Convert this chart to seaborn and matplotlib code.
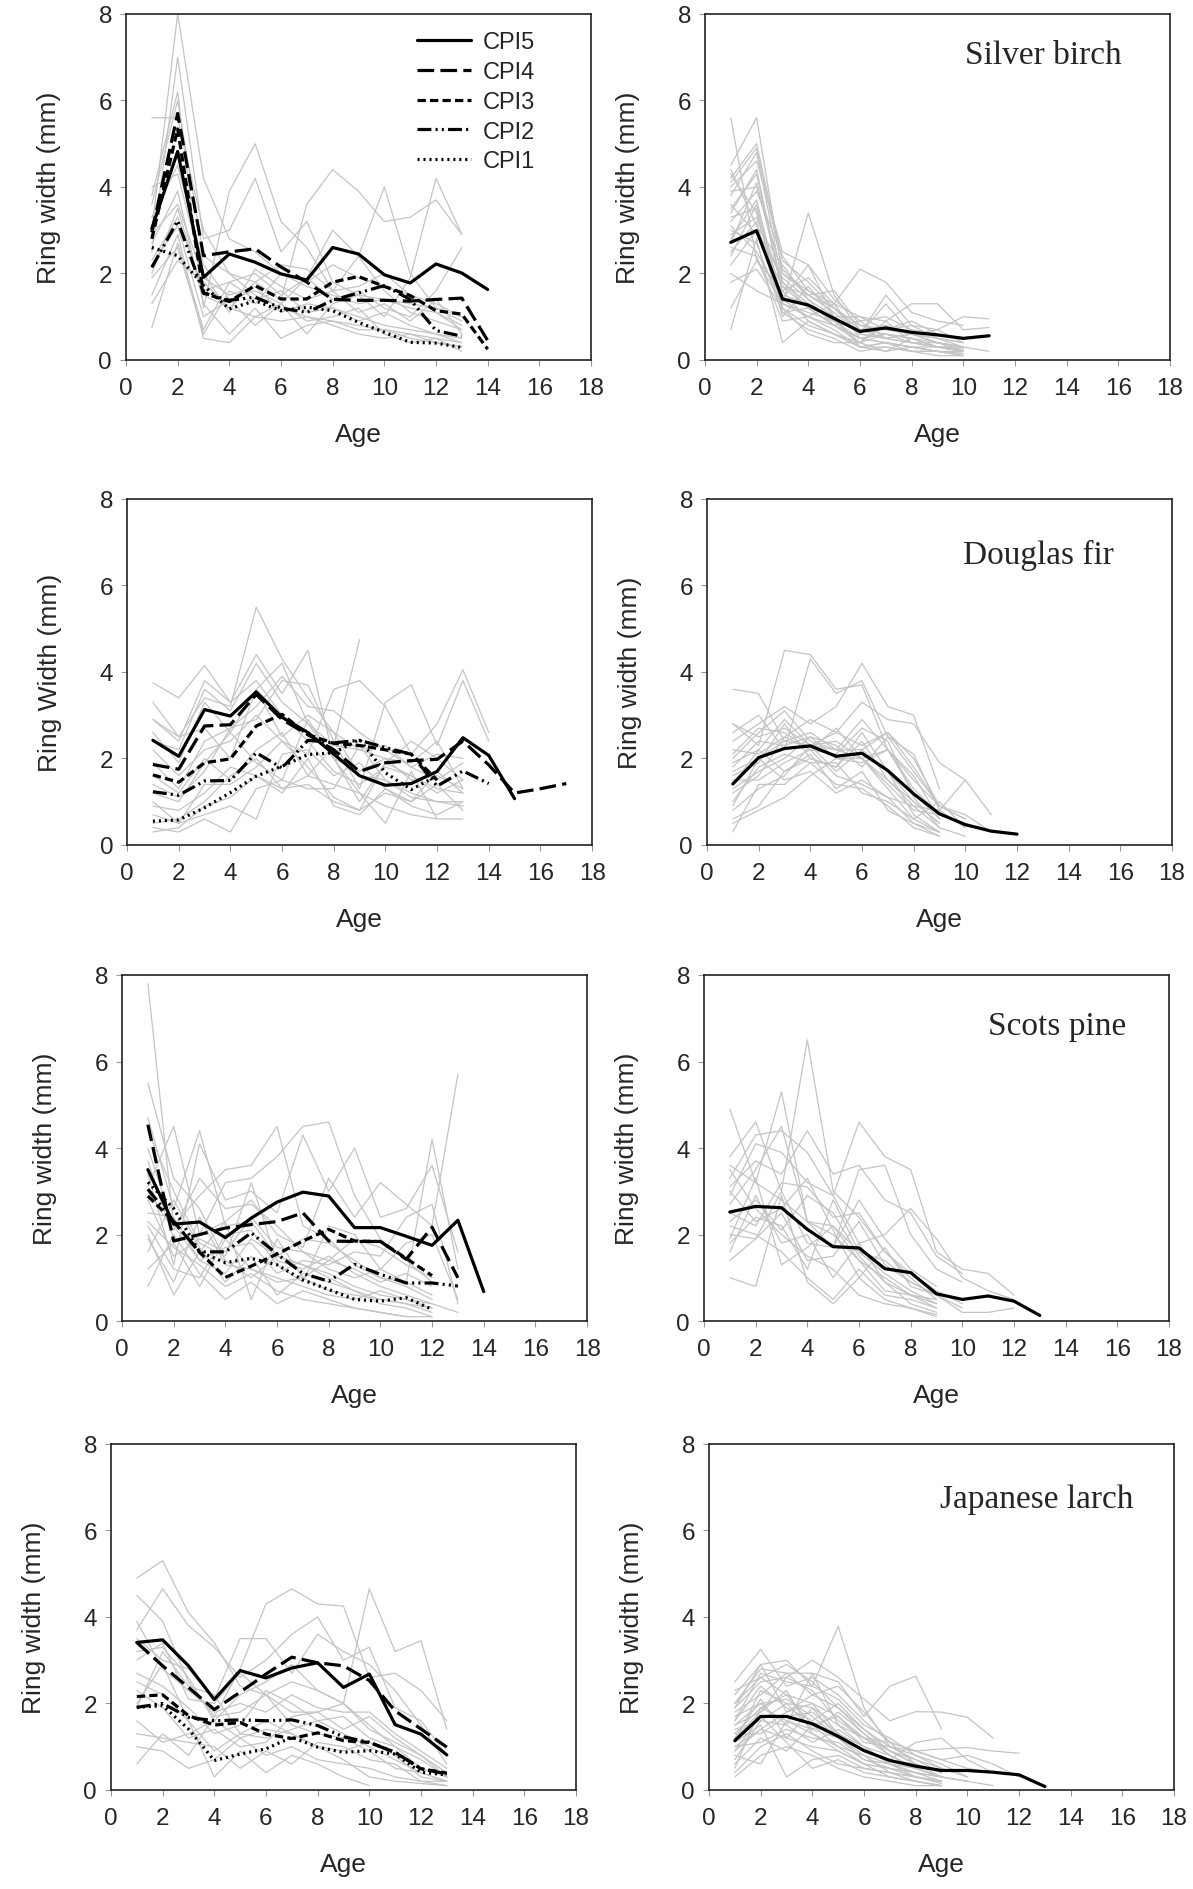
import matplotlib
matplotlib.use("Agg")
import matplotlib.pyplot as plt
from matplotlib.lines import Line2D
import pandas as pd
import seaborn as sns

# ---------------------------------------------------------------- data
cpi_names = ["CPI5", "CPI4", "CPI3", "CPI2", "CPI1"]

# Silver birch: ring width (mm) by age, mean per crown position index
birch_cpi5 = [3.04, 4.82, 1.91, 2.45, 2.26, 1.99, 1.85, 2.6, 2.45, 1.97, 1.78, 2.22, 2.01, 1.63]
birch_cpi4 = [2.95, 5.7, 2.41, 2.5, 2.57, 2.15, 1.8, 1.4, 1.38, 1.38, 1.36, 1.4, 1.43, 0.45]
birch_cpi3 = [2.8, 5.34, 1.55, 1.35, 1.72, 1.41, 1.41, 1.8, 1.93, 1.7, 1.49, 1.14, 1.06, 0.25]
birch_cpi2 = [2.14, 3.22, 1.55, 1.38, 1.45, 1.2, 1.1, 1.38, 1.55, 1.72, 1.4, 0.68, 0.55]
birch_cpi1 = [2.6, 2.41, 1.72, 1.18, 1.37, 1.14, 1.22, 1.14, 0.87, 0.64, 0.41, 0.39, 0.29]
birch_mean = [2.72, 2.99, 1.41, 1.27, 0.96, 0.66, 0.74, 0.64, 0.58, 0.5, 0.56]

# Douglas fir
fir_cpi5 = [2.42, 2.05, 3.13, 2.98, 3.54, 2.95, 2.6, 2.1, 1.6, 1.38, 1.42, 1.7, 2.48, 2.07, 1.07]
fir_cpi4 = [1.86, 1.75, 2.75, 2.78, 3.48, 2.9, 2.55, 2.2, 1.7, 1.9, 1.95, 1.98, 2.4, 1.85, 1.2, 1.3, 1.42]
fir_cpi3 = [1.62, 1.45, 1.9, 1.99, 2.75, 3.02, 2.55, 2.35, 2.3, 2.2, 2.1, 1.5]
fir_cpi2 = [1.23, 1.15, 1.48, 1.49, 2.13, 1.78, 2.42, 2.36, 2.42, 2.25, 2.1, 1.36, 1.71, 1.42]
fir_cpi1 = [0.55, 0.58, 0.86, 1.21, 1.59, 1.82, 2.09, 2.13, 2.44, 1.67, 1.28, 1.6]
fir_mean = [1.41, 2.02, 2.23, 2.29, 2.05, 2.12, 1.72, 1.18, 0.72, 0.47, 0.32, 0.25]

# Scots pine
pine_cpi5 = [3.5, 2.24, 2.29, 1.93, 2.38, 2.75, 2.98, 2.89, 2.16, 2.16, 1.96, 1.75, 2.33, 0.68]
pine_cpi4 = [4.54, 1.85, 2.0, 2.15, 2.23, 2.3, 2.5, 1.85, 1.84, 1.84, 1.43, 2.17, 1.0]
pine_cpi3 = [2.89, 2.3, 1.59, 1.01, 1.27, 1.55, 1.85, 2.12, 1.85, 1.84, 1.45, 1.05]
pine_cpi2 = [3.05, 2.3, 1.6, 1.6, 2.04, 1.55, 1.1, 0.92, 1.31, 1.08, 0.88, 0.88, 0.81]
pine_cpi1 = [3.21, 2.6, 1.6, 1.35, 1.45, 1.3, 0.95, 0.73, 0.5, 0.46, 0.54, 0.27]
pine_mean = [2.52, 2.65, 2.62, 2.12, 1.72, 1.69, 1.21, 1.12, 0.63, 0.5, 0.58, 0.46, 0.13]

# Japanese larch
larch_cpi5 = [3.41, 3.47, 2.87, 2.09, 2.76, 2.59, 2.82, 2.94, 2.37, 2.68, 1.51, 1.29, 0.81]
larch_cpi4 = [3.41, 2.87, 2.37, 1.86, 2.26, 2.68, 3.07, 2.94, 2.87, 2.53, 1.83, 1.41, 0.99]
larch_cpi3 = [2.16, 2.2, 1.72, 1.5, 1.56, 1.29, 1.19, 1.32, 1.14, 1.1, 0.87, 0.49, 0.39]
larch_cpi2 = [1.91, 2.0, 1.68, 1.6, 1.62, 1.6, 1.62, 1.49, 1.23, 1.1, 0.87, 0.49, 0.37]
larch_cpi1 = [1.91, 1.95, 1.41, 0.68, 0.83, 0.95, 1.22, 0.99, 0.87, 0.91, 0.83, 0.41, 0.35]
larch_mean = [1.14, 1.7, 1.7, 1.53, 1.24, 0.91, 0.68, 0.55, 0.45, 0.45, 0.41, 0.35, 0.08]

# individual trees (grey), sampled by crown class (left) and at random (right)
birch_class_trees = [
    [3.0, 8.0, 4.2, 2.8, 2.5, 2.0, 1.8, 2.2, 1.9, 1.7, 1.5, 1.3, 1.0],
    [2.5, 7.0, 2.8, 3.0, 4.2, 2.5, 3.2, 1.8, 1.5, 1.4, 1.3, 1.2, 0.9],
    [5.6, 5.6, 3.0, 2.0, 1.5, 1.2, 1.0, 0.9, 0.8, 0.7, 0.6, 0.5, 0.4],
    [3.8, 6.2, 1.2, 3.9, 5.0, 3.2, 2.6, 1.6, 1.7, 2.0, 1.5, 1.1, 0.7],
    [2.0, 3.5, 1.5, 1.2, 1.8, 1.4, 3.6, 4.4, 3.9, 3.2, 3.3, 3.7, 2.9],
    [1.5, 2.9, 0.5, 0.4, 1.0, 1.3, 0.6, 1.3, 1.5, 1.0, 1.9, 4.2, 2.9],
    [0.75, 2.7, 0.7, 1.8, 2.0, 1.5, 1.9, 3.0, 2.4, 4.0, 2.0, 1.2, 1.0],
    [1.3, 2.3, 1.8, 1.2, 1.0, 0.9, 1.0, 0.8, 0.6, 0.5, 0.6, 0.4, 0.3],
    [2.3, 3.3, 1.6, 1.8, 1.4, 1.6, 1.1, 1.2, 1.0, 0.8, 0.7, 0.6, 0.4],
    [3.3, 4.5, 2.2, 1.4, 1.6, 1.3, 1.9, 1.4, 1.6, 1.2, 1.0, 1.6, 2.6],
    [2.7, 3.9, 1.3, 0.6, 1.2, 0.5, 0.8, 0.9, 0.7, 0.7, 0.5, 0.4, 0.3],
    [1.9, 2.6, 0.6, 1.6, 1.3, 2.0, 1.7, 1.5, 1.3, 1.4, 1.2, 1.1, 0.8],
    [3.6, 6.0, 2.4, 2.0, 1.8, 2.2, 2.1, 1.6, 2.4, 1.6, 1.1, 0.9, 0.7],
    [2.9, 3.6, 1.9, 1.5, 1.7, 1.1, 1.3, 1.2, 0.9, 1.1, 0.8, 0.6, 0.5],
    [2.2, 3.1, 1.0, 1.4, 0.8, 1.3, 0.9, 1.0, 1.2, 0.6, 0.4, 0.5, 0.2],
    [4.0, 4.3, 2.0, 1.1, 2.1, 1.7, 1.4, 1.6, 1.1, 1.3, 0.9, 1.4, 0.6],
]
birch_trees = [
    [5.6, 2.3, 1.3, 1.0, 0.8, 0.5, 0.4, 0.3, 0.3, 0.2],
    [4.5, 5.6, 2.0, 1.5, 1.2, 0.7, 0.6, 0.5, 0.4, 0.3],
    [4.2, 5.0, 2.3, 1.8, 1.2, 0.8, 0.7, 0.6, 0.5, 0.4],
    [3.8, 4.8, 1.8, 1.2, 1.0, 0.6, 0.5, 0.4, 0.3, 0.2],
    [4.0, 4.6, 2.5, 2.2, 1.4, 0.9, 1.0, 0.7, 0.6, 0.5],
    [3.5, 4.3, 1.5, 1.3, 0.9, 0.5, 0.6, 0.4, 0.3, 0.2],
    [3.2, 3.9, 2.4, 1.6, 1.3, 2.1, 1.8, 1.1, 0.9, 0.8],
    [2.8, 3.7, 1.3, 3.4, 1.5, 0.7, 0.5, 0.6, 0.4, 0.3],
    [4.3, 3.4, 1.2, 0.8, 0.6, 0.3, 0.4, 0.3, 0.2, 0.15],
    [2.5, 3.2, 1.0, 1.7, 1.0, 0.6, 1.5, 0.8, 0.7, 1.0, 0.95],
    [3.0, 2.7, 1.1, 0.7, 0.5, 0.2, 0.3, 0.2, 0.2, 0.1],
    [2.2, 3.0, 1.9, 1.4, 1.0, 1.0, 0.9, 1.3, 1.3, 0.7, 0.75],
    [1.2, 2.3, 1.6, 0.9, 0.6, 0.4, 0.6, 0.5, 0.3, 0.25],
    [0.7, 2.8, 0.4, 0.9, 0.6, 0.3, 0.2, 0.5, 0.3, 0.3, 0.2],
    [2.0, 1.6, 1.3, 1.1, 0.9, 0.4, 0.8, 0.6, 0.4, 0.3],
    [3.6, 2.9, 1.7, 1.2, 0.8, 0.5, 0.4, 0.3, 0.2, 0.2],
    [4.1, 4.9, 2.1, 1.5, 1.1, 0.6, 0.5, 0.6, 0.5, 0.3],
    [2.6, 2.4, 0.9, 1.0, 0.7, 0.3, 0.3, 0.2, 0.2, 0.15],
    [3.3, 3.5, 1.4, 1.0, 1.3, 1.0, 0.7, 0.9, 0.6, 0.5],
    [1.8, 2.1, 1.2, 0.6, 0.4, 0.4, 0.2, 0.3, 0.2, 0.1],
    [3.9, 4.0, 2.0, 1.6, 1.2, 0.6, 1.3, 0.6, 0.4, 0.3],
    [2.9, 3.3, 1.8, 1.3, 0.9, 0.7, 0.8, 0.6, 0.7, 0.4],
    [3.4, 4.4, 1.6, 1.9, 1.3, 0.5, 0.6, 0.5, 0.3, 0.2],
    [2.4, 3.6, 1.1, 1.2, 0.8, 0.4, 0.9, 0.4, 0.4, 0.2],
    [4.4, 3.1, 2.2, 1.4, 0.8, 0.9, 0.5, 0.4, 0.3, 0.3],
    [3.1, 2.5, 1.4, 2.2, 1.0, 0.3, 0.4, 0.2, 0.1, 0.1],
    [2.7, 4.1, 1.7, 1.5, 1.6, 0.8, 0.7, 0.8, 0.5, 0.4],
]
fir_class_trees = [
    [3.75, 3.4, 4.15, 3.3, 3.8, 3.0, 2.4, 1.7, 1.4, 1.8, 1.6, 1.3, 1.2],
    [3.3, 2.5, 3.4, 3.2, 5.5, 4.3, 3.4, 2.6, 1.6, 1.5, 1.1, 1.0, 0.9],
    [2.9, 2.4, 3.8, 3.3, 4.4, 3.5, 4.5, 2.0, 1.0, 1.9, 2.4, 2.0, 1.5],
    [2.6, 1.9, 3.3, 2.6, 3.6, 4.2, 2.8, 2.3, 4.75],
    [2.2, 1.6, 2.2, 2.4, 3.0, 2.4, 2.1, 3.6, 3.8, 3.2, 2.1, 2.8, 4.05, 2.6],
    [1.9, 1.3, 2.4, 2.7, 2.9, 3.8, 3.7, 2.4, 1.3, 3.3, 3.7, 2.3, 3.8, 2.4],
    [1.6, 1.2, 2.0, 1.5, 2.2, 2.6, 1.6, 2.3, 2.2, 2.0, 1.5, 1.6, 1.3],
    [1.2, 1.0, 1.9, 2.6, 1.9, 1.5, 2.9, 2.0, 1.2, 0.5, 1.7, 0.6],
    [0.9, 0.8, 1.2, 1.8, 1.6, 1.2, 2.0, 0.9, 0.7, 1.3, 1.0, 1.4, 0.8],
    [0.7, 0.5, 0.7, 0.9, 0.6, 2.1, 2.2, 1.6, 1.9, 1.3, 0.9, 0.7, 1.0],
    [0.4, 0.3, 0.6, 0.3, 1.3, 1.5, 1.3, 1.3, 2.3, 1.5, 1.2, 1.0, 1.0],
    [0.3, 0.4, 0.9, 1.1, 1.6, 1.3, 1.4, 1.0, 0.8, 1.9, 1.6, 1.2, 1.5],
    [2.9, 2.5, 2.7, 2.0, 3.6, 2.5, 3.0, 2.6, 2.2, 2.3, 1.8, 2.1, 2.0],
    [1.4, 1.1, 1.7, 2.7, 3.2, 3.9, 3.2, 3.1, 2.6, 2.2, 1.8, 1.5, 1.9],
    [2.4, 2.2, 3.6, 3.1, 4.2, 3.3, 2.8, 2.0, 1.7, 2.0, 1.9, 2.4, 1.3],
    [0.5, 0.6, 1.0, 1.6, 2.0, 1.3, 1.6, 1.4, 1.2, 0.9, 0.7, 0.6, 0.6],
    [1.0, 0.5, 1.4, 1.4, 1.8, 2.4, 1.8, 1.1, 0.8, 1.2, 1.0, 1.7, 1.2],
]
fir_trees = [
    [3.6, 3.5, 2.4, 2.3, 2.2, 2.0, 1.5, 1.0, 0.5],
    [2.8, 2.3, 4.5, 4.4, 3.6, 3.7, 2.2, 1.3, 0.7, 0.5],
    [2.6, 3.0, 2.2, 4.3, 3.5, 3.8, 2.5, 2.1, 0.8, 0.4],
    [2.4, 2.8, 3.2, 2.8, 3.2, 4.2, 3.2, 3.0, 1.3],
    [2.2, 2.1, 2.5, 2.9, 2.6, 3.3, 2.9, 2.8, 1.9, 1.5, 0.7],
    [2.0, 2.6, 3.1, 2.4, 2.2, 2.2, 2.6, 2.0, 0.9, 0.7, 0.3],
    [1.8, 2.4, 2.3, 2.5, 2.0, 2.0, 2.2, 1.6, 0.6],
    [1.6, 1.9, 2.8, 2.0, 1.8, 2.4, 1.5, 0.9, 0.4, 0.2],
    [1.4, 2.2, 1.7, 2.1, 1.3, 1.7, 0.8, 0.5, 0.2],
    [1.2, 1.6, 2.5, 2.2, 1.6, 1.4, 1.1, 0.5, 0.3],
    [1.0, 1.8, 2.1, 1.9, 1.9, 1.2, 1.0, 0.6, 1.0, 0.4],
    [0.8, 1.3, 1.6, 2.3, 2.4, 2.0, 1.4, 0.8, 0.7, 0.5, 0.3],
    [0.6, 0.9, 1.7, 2.0, 1.8, 2.6, 1.7, 0.7, 0.3],
    [0.5, 0.8, 1.1, 1.6, 2.0, 1.9, 2.2, 1.5, 0.9, 0.6],
    [0.3, 1.4, 1.4, 1.9, 1.4, 1.3, 0.9, 0.4, 0.2],
    [2.8, 2.5, 2.7, 2.3, 2.6, 2.3, 2.6, 1.8, 0.9],
    [1.7, 2.0, 2.4, 2.6, 2.2, 2.9, 2.2, 1.2, 0.6],
    [2.1, 2.7, 2.6, 2.2, 2.7, 2.0, 1.3, 0.6, 0.3],
    [1.3, 1.7, 2.0, 2.5, 2.3, 1.8, 2.5, 1.7, 0.9, 0.6],
    [0.9, 2.0, 1.5, 1.7, 1.2, 1.5, 1.1, 0.9, 0.8, 1.5],
    [1.9, 2.2, 2.9, 2.3, 1.7, 2.2, 1.7, 1.0, 0.5],
    [1.5, 1.5, 1.9, 2.2, 2.1, 2.7, 2.4, 1.1, 0.4],
]
pine_class_trees = [
    [7.8, 2.2, 1.4, 1.1, 1.9, 1.5, 1.3, 1.1, 0.8, 0.6, 0.5, 0.4],
    [5.5, 3.3, 2.6, 1.4, 1.0, 1.5, 1.3, 1.0, 0.7, 0.5, 0.4, 0.3],
    [4.7, 2.6, 4.4, 2.2, 2.3, 1.5, 1.9, 1.8, 1.4, 1.0, 0.9, 0.6],
    [4.0, 2.2, 2.9, 3.5, 3.6, 4.5, 2.2, 1.9, 1.3, 1.0, 0.8, 0.5],
    [3.7, 1.9, 2.0, 3.2, 3.3, 3.8, 4.5, 4.6, 2.9, 1.9, 1.4, 0.9],
    [3.4, 1.3, 4.1, 2.8, 3.0, 2.5, 4.3, 3.0, 4.0, 2.4, 2.6, 3.6, 1.6],
    [3.1, 4.5, 2.0, 2.3, 2.8, 2.0, 1.7, 3.3, 2.4, 3.2, 2.7, 2.2, 5.7],
    [2.8, 1.5, 1.9, 1.6, 2.4, 1.7, 1.6, 1.2, 1.0, 1.2, 0.9, 4.2, 1.2],
    [2.5, 2.4, 1.4, 1.7, 1.8, 1.1, 1.4, 1.3, 1.6, 1.5, 2.4, 2.7, 0.4],
    [2.2, 1.2, 1.0, 2.0, 2.1, 1.3, 0.9, 2.2, 2.0, 1.2, 1.8, 2.0, 0.5],
    [1.9, 0.9, 2.4, 1.3, 1.2, 0.9, 1.0, 0.7, 0.6, 0.5, 0.4, 0.2],
    [1.6, 2.8, 1.7, 0.9, 1.5, 0.6, 1.1, 0.9, 0.7, 0.4, 0.3, 0.1],
    [0.8, 2.0, 1.1, 0.5, 0.9, 0.4, 0.7, 0.5, 0.3, 0.2, 0.1],
    [2.3, 1.7, 1.3, 0.8, 1.1, 0.7, 0.5, 0.4, 0.3, 0.2, 0.1, 0.1],
    [3.0, 2.1, 3.3, 2.6, 2.7, 2.2, 1.6, 1.4, 1.9, 1.7, 1.3, 1.0],
    [2.0, 0.6, 1.6, 2.3, 0.5, 1.9, 1.0, 1.4, 1.2, 0.9, 1.1, 0.8],
    [1.2, 1.8, 0.8, 1.9, 1.2, 1.0, 0.8, 0.6, 0.5, 0.7, 0.5, 0.3],
    [4.4, 3.0, 1.8, 1.5, 3.2, 1.4, 1.2, 1.5, 1.1, 0.8, 0.6, 0.4, 0.2],
]
pine_trees = [
    [4.9, 3.2, 2.8, 2.3, 2.2, 1.6, 1.4, 0.9, 0.6],
    [3.8, 4.6, 3.0, 6.5, 3.0, 2.4, 1.6, 1.1, 0.7, 0.4],
    [3.6, 3.2, 5.3, 2.3, 2.0, 1.4, 1.0, 0.6, 0.3],
    [3.3, 4.3, 4.4, 3.9, 2.9, 4.6, 3.8, 3.5, 1.6, 1.2, 1.1, 0.6],
    [3.1, 3.7, 3.4, 4.4, 3.4, 3.6, 2.8, 2.5, 1.5, 1.1],
    [2.9, 4.1, 3.9, 3.2, 2.9, 1.8, 2.0, 2.6, 1.9, 1.0, 0.7, 0.5],
    [2.7, 3.5, 4.5, 2.3, 1.7, 3.5, 3.6, 2.0, 1.2, 0.9],
    [2.5, 2.2, 3.2, 3.1, 2.4, 2.5, 1.6, 1.0, 0.5],
    [2.3, 2.8, 2.1, 2.9, 2.5, 1.5, 0.9, 0.6, 0.4],
    [2.0, 1.9, 3.0, 1.8, 1.7, 2.8, 1.9, 1.2, 0.8],
    [1.8, 2.4, 2.2, 1.2, 2.8, 1.6, 1.1, 0.7, 0.4],
    [1.6, 2.9, 1.8, 2.0, 1.0, 1.8, 0.9, 0.4, 0.2],
    [1.4, 1.9, 2.5, 1.4, 1.5, 2.3, 1.3, 0.9, 0.6, 0.3],
    [1.0, 0.8, 2.9, 0.9, 0.4, 1.0, 0.5, 0.3, 0.15],
    [3.5, 2.6, 2.0, 1.5, 1.2, 0.6, 0.4, 0.3, 0.1],
    [2.2, 2.0, 1.6, 1.0, 0.5, 1.2, 0.6, 0.5, 0.3],
    [3.0, 2.3, 2.6, 3.3, 2.1, 1.0, 1.7, 0.8, 0.6, 0.2, 0.2, 0.3],
    [1.9, 3.3, 1.3, 1.7, 2.2, 1.4, 0.7, 0.6, 0.5],
]
larch_class_trees = [
    [4.9, 5.3, 4.1, 3.4, 2.4, 2.2, 2.5, 2.3, 2.0, 4.65, 3.2, 3.45, 1.4],
    [4.5, 3.9, 2.5, 1.7, 2.8, 4.3, 4.65, 4.3, 4.25, 2.6, 2.7, 2.3, 1.6],
    [3.7, 4.65, 3.8, 3.3, 2.6, 3.0, 3.6, 4.0, 3.0, 3.3, 1.9, 1.6, 0.8],
    [3.5, 3.0, 2.8, 2.1, 3.5, 3.5, 2.7, 3.6, 3.2, 2.9, 2.3, 1.5, 0.6],
    [3.2, 3.3, 2.6, 1.6, 2.2, 2.5, 2.9, 2.3, 2.0, 1.4, 1.1, 0.8, 0.4],
    [3.0, 3.4, 2.1, 2.0, 2.7, 2.2, 1.8, 1.8, 1.4, 1.7, 1.2, 0.8, 0.3],
    [2.7, 2.4, 1.9, 1.3, 1.5, 2.3, 2.0, 1.6, 1.3, 1.0, 0.7, 0.4, 0.2],
    [2.5, 2.2, 1.6, 0.9, 1.3, 1.6, 1.3, 1.0, 0.7, 0.3, 0.2, 0.15, 0.1],
    [2.3, 1.9, 1.2, 1.4, 1.0, 1.1, 1.7, 1.8, 2.0, 1.5, 1.0, 0.5, 0.3],
    [2.0, 2.9, 1.6, 0.3, 0.9, 0.4, 0.8, 0.6, 0.3, 0.1],
    [1.6, 1.1, 1.3, 1.6, 1.2, 1.4, 1.3, 1.0, 0.9, 1.1, 0.8, 0.3, 0.2],
    [1.3, 1.2, 1.1, 1.0, 0.5, 0.9, 0.6, 1.1, 1.0, 0.7, 0.6, 0.2, 0.2],
    [0.6, 1.3, 0.8, 1.7, 1.8, 2.2, 1.5, 1.3, 1.2, 0.9, 0.5, 0.4, 0.2],
    [1.0, 0.9, 0.5, 0.7, 1.2, 0.8, 1.0, 0.7, 0.6, 0.5, 0.3, 0.2, 0.1],
    [3.9, 2.8, 2.3, 1.8, 2.0, 1.8, 2.2, 1.9, 1.8, 1.8, 1.3, 0.9, 0.5],
    [1.9, 3.2, 2.4, 2.2, 1.3, 1.2, 1.4, 1.6, 1.7, 1.2, 1.0, 0.7, 0.3],
]
larch_trees = [
    [2.5, 3.25, 2.4, 2.6, 2.2, 1.6, 1.1, 0.6, 0.4],
    [2.2, 2.9, 3.0, 2.4, 3.78, 1.9, 1.0, 0.7, 0.4],
    [2.0, 2.8, 2.7, 2.7, 2.5, 1.7, 2.4, 2.63, 1.41],
    [1.9, 2.5, 2.6, 3.0, 2.6, 2.1, 1.6, 1.81, 1.8, 1.68, 1.2],
    [1.8, 2.2, 2.7, 2.2, 2.4, 1.8, 1.1, 0.9, 0.95, 0.98, 0.9, 0.85],
    [1.7, 2.0, 1.5, 2.7, 1.5, 1.2, 0.8, 0.5, 0.3],
    [1.6, 2.4, 1.9, 1.6, 2.0, 1.4, 1.0, 0.8, 0.6, 0.3],
    [1.5, 1.8, 2.3, 1.3, 1.0, 0.8, 0.6, 0.4, 0.2],
    [1.4, 1.6, 2.0, 1.9, 1.5, 1.0, 0.6, 0.5, 0.3, 0.2],
    [1.3, 1.3, 1.7, 1.8, 1.3, 0.9, 0.7, 0.6, 0.4],
    [1.2, 2.1, 1.2, 1.0, 0.9, 0.6, 0.5, 0.4, 0.3, 0.2, 0.1],
    [1.1, 1.5, 0.3, 0.7, 0.8, 0.5, 0.4, 0.2, 0.1],
    [1.0, 1.1, 1.4, 1.2, 1.1, 0.7, 0.5, 0.3, 0.2],
    [0.9, 1.7, 1.1, 0.5, 0.7, 0.4, 0.3, 0.2, 0.1],
    [0.8, 0.6, 1.6, 1.4, 1.2, 0.8, 0.4, 0.3, 0.2],
    [0.6, 1.2, 0.9, 1.5, 1.0, 0.6, 0.3, 0.2, 0.1],
    [0.4, 1.0, 1.3, 0.9, 0.6, 0.5, 0.4, 0.3, 0.2],
    [0.3, 0.8, 1.0, 0.8, 0.5, 0.3, 0.2, 0.1, 0.1],
    [2.3, 2.6, 2.2, 2.0, 1.7, 1.2, 1.1, 0.9, 0.7, 0.5, 0.4],
    [1.9, 2.9, 1.8, 2.2, 1.9, 1.4, 0.9, 0.7, 0.5],
    [1.3, 1.9, 2.2, 1.5, 1.7, 1.1, 1.0, 0.9, 0.7, 0.8, 0.6, 0.3],
    [1.5, 2.0, 2.1, 1.7, 1.2, 0.9, 0.7, 1.1, 1.2, 0.7, 0.4],
    [1.0, 1.4, 1.8, 2.0, 1.3, 1.0, 0.8, 0.5, 0.3, 0.2],
    [0.7, 1.6, 1.5, 1.1, 1.4, 1.0, 0.6, 0.4, 0.3],
    [2.0, 2.6, 2.9, 2.5, 1.9, 1.3, 0.9, 0.6, 0.3],
    [1.6, 2.7, 2.5, 2.4, 2.1, 1.5, 1.2, 0.8, 0.5, 0.3],
    [1.2, 1.8, 2.6, 2.3, 1.6, 1.2, 0.9, 0.6, 0.4],
    [0.9, 1.4, 1.2, 1.9, 1.2, 0.7, 0.6, 0.3, 0.2],
    [0.5, 1.9, 1.6, 1.3, 0.9, 0.6, 0.5, 0.3, 0.15],
    [1.1, 2.3, 2.0, 1.4, 1.8, 1.3, 0.8, 0.5, 0.3],
]

x_ticks = [0, 2, 4, 6, 8, 10, 12, 14, 16, 18]
y_ticks = [0, 2, 4, 6, 8]

# ---------------------------------------------------------------- style
sns.set_theme(style="white")
plt.rcParams["font.family"] = ["Liberation Sans", "DejaVu Sans"]
plt.rcParams["lines.scale_dashes"] = False

GREY = "#c4c4c4"
MEAN_LW = 2.3
DASHES = {
    "CPI5": "",
    "CPI4": (12, 4.5),
    "CPI3": (6, 3),
    "CPI2": (10, 3, 1.5, 3, 1.5, 3),
    "CPI1": (1.5, 2.8),
}


def trees_frame(trees):
    rows = []
    for i, widths in enumerate(trees):
        for age, w in enumerate(widths, start=1):
            rows.append({"tree": i, "Age": age, "Width": w})
    return pd.DataFrame(rows)


def classes_frame(series):
    rows = []
    for name, widths in zip(cpi_names, series):
        for age, w in enumerate(widths, start=1):
            rows.append({"CPI": name, "Age": age, "Width": w})
    return pd.DataFrame(rows)


def style_axes(ax, ylabel):
    ax.set_xlim(0, 18)
    ax.set_ylim(0, 8)
    ax.set_xticks(x_ticks)
    ax.set_yticks(y_ticks)
    ax.tick_params(axis="both", which="major", labelsize=17.5, length=4,
                   width=0.8, color="#999999", direction="out",
                   bottom=True, left=True, pad=6)
    ax.tick_params(axis="x", pad=8)
    for sp in ax.spines.values():
        sp.set_color("#222222")
        sp.set_linewidth(1.2)
    ax.set_xlabel("Age", fontsize=19, labelpad=17)
    ax.set_ylabel(ylabel, fontsize=19, labelpad=27)
    ax.grid(False)


def class_panel(ax, trees, series, ylabel):
    sns.lineplot(data=trees_frame(trees), x="Age", y="Width", units="tree",
                 estimator=None, color=GREY, linewidth=0.9, ax=ax, legend=False)
    sns.lineplot(data=classes_frame(series), x="Age", y="Width", style="CPI",
                 style_order=cpi_names, dashes=DASHES, units="CPI",
                 estimator=None, color="black", linewidth=MEAN_LW, ax=ax,
                 legend=False)
    style_axes(ax, ylabel)


def species_panel(ax, trees, mean, ylabel, title, tx, ty):
    sns.lineplot(data=trees_frame(trees), x="Age", y="Width", units="tree",
                 estimator=None, color=GREY, linewidth=0.9, ax=ax, legend=False)
    mean_df = pd.DataFrame({"Age": range(1, len(mean) + 1), "Width": mean})
    sns.lineplot(data=mean_df, x="Age", y="Width", color="black",
                 linewidth=MEAN_LW, ax=ax, legend=False)
    style_axes(ax, ylabel)
    ax.text(tx, ty, title, transform=ax.transAxes, ha="right", va="baseline",
            fontsize=24, family=["Liberation Serif", "DejaVu Serif"])


# ---------------------------------------------------------------- figure
fig = plt.figure(figsize=(11.93, 18.90), dpi=100)
H = 0.1831
axes = {
    "a": fig.add_axes([0.1056, 0.8090, 0.3898, H]),
    "b": fig.add_axes([0.5909, 0.8090, 0.3898, H]),
    "c": fig.add_axes([0.1065, 0.5524, 0.3898, H]),
    "d": fig.add_axes([0.5926, 0.5524, 0.3898, H]),
    "e": fig.add_axes([0.1023, 0.3005, 0.3898, H]),
    "f": fig.add_axes([0.5901, 0.3005, 0.3898, H]),
    "g": fig.add_axes([0.0930, 0.0524, 0.3898, H]),
    "h": fig.add_axes([0.5943, 0.0524, 0.3898, H]),
}

class_panel(axes["a"], birch_class_trees,
            [birch_cpi5, birch_cpi4, birch_cpi3, birch_cpi2, birch_cpi1],
            "Ring width (mm)")
species_panel(axes["b"], birch_trees, birch_mean, "Ring width (mm)",
              "Silver birch", 0.895, 0.858)

class_panel(axes["c"], fir_class_trees,
            [fir_cpi5, fir_cpi4, fir_cpi3, fir_cpi2, fir_cpi1],
            "Ring Width (mm)")
species_panel(axes["d"], fir_trees, fir_mean, "Ring width (mm)",
              "Douglas fir", 0.876, 0.816)

class_panel(axes["e"], pine_class_trees,
            [pine_cpi5, pine_cpi4, pine_cpi3, pine_cpi2, pine_cpi1],
            "Ring width (mm)")
species_panel(axes["f"], pine_trees, pine_mean, "Ring width (mm)",
              "Scots pine", 0.908, 0.83)

class_panel(axes["g"], larch_class_trees,
            [larch_cpi5, larch_cpi4, larch_cpi3, larch_cpi2, larch_cpi1],
            "Ring width (mm)")
species_panel(axes["h"], larch_trees, larch_mean, "Ring width (mm)",
              "Japanese larch", 0.912, 0.818)

# legend for the crown position classes
handles = []
for name in cpi_names:
    dash = DASHES[name]
    ls = "-" if dash == "" else (0, dash)
    handles.append(Line2D([], [], color="black", linewidth=MEAN_LW, linestyle=ls))
axes["a"].legend(handles, cpi_names, loc="upper left",
                 bbox_to_anchor=(0.625, 0.95), frameon=False, fontsize=17,
                 handlelength=2.3, handletextpad=0.5, labelspacing=0.33,
                 borderpad=0, borderaxespad=0)

fig.savefig("out.png", dpi=100)
